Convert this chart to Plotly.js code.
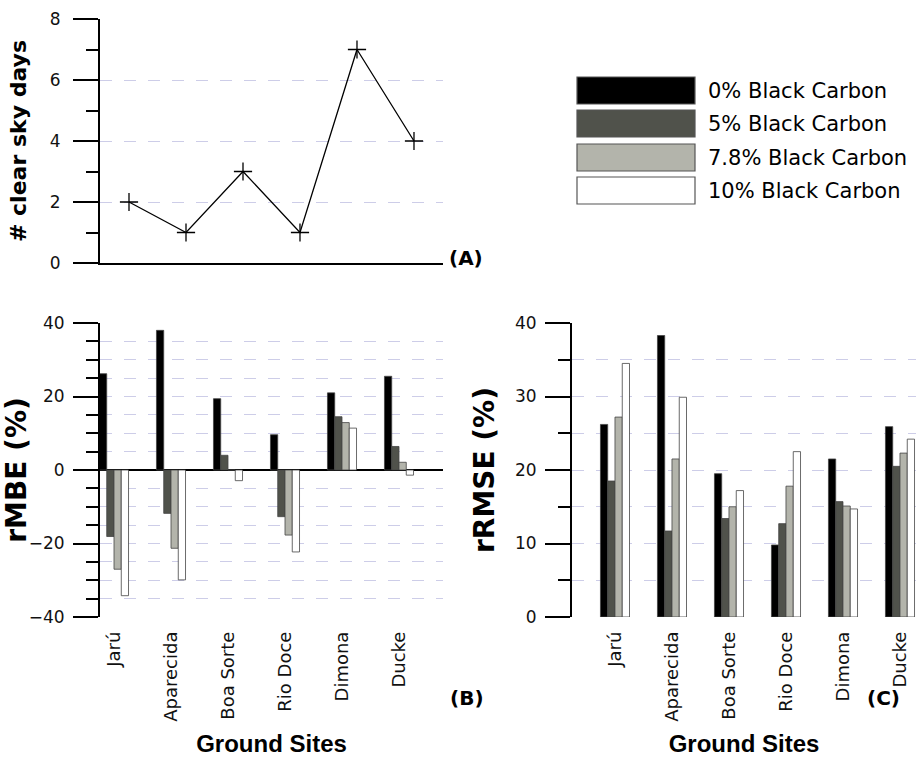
<!DOCTYPE html>
<html>
<head>
<meta charset="utf-8">
<script src="https://cdn.plot.ly/plotly-3.0.1.min.js"></script>
<style>html,body{margin:0;padding:0;background:#fff;}#chart{width:916px;height:757px;}</style>
</head>
<body>
<div id="chart"></div>
<script>
// ---- data ----
const sites = ['Jarú', 'Aparecida', 'Boa Sorte', 'Rio Doce', 'Dimona', 'Ducke'];
const clearSkyDays = [2, 1, 3, 1, 7, 4];
const seriesNames = ['0% Black Carbon', '5% Black Carbon', '7.8% Black Carbon', '10% Black Carbon'];
const rMBE_bc0 = [26.2, 38.0, 19.4, 9.6, 21.0, 25.5];
const rMBE_bc5 = [-18.1, -11.8, 4.0, -12.7, 14.5, 6.4];
const rMBE_bc78 = [-27.0, -21.3, 0.0, -17.7, 12.9, 2.1];
const rMBE_bc10 = [-34.2, -29.9, -2.9, -22.3, 11.4, -1.4];
const rRMSE_bc0 = [26.2, 38.3, 19.5, 9.8, 21.5, 25.9];
const rRMSE_bc5 = [18.5, 11.7, 13.4, 12.7, 15.7, 20.5];
const rRMSE_bc78 = [27.2, 21.5, 15.0, 17.8, 15.1, 22.3];
const rRMSE_bc10 = [34.5, 29.9, 17.2, 22.5, 14.7, 24.2];
const yTicksA = [0, 2, 4, 6, 8];
const yTicksB = [-40, -20, 0, 20, 40];
const yTicksC = [0, 10, 20, 30, 40];

// ---- styles ----
const barColors = ['#000000', '#50524b', '#b3b4ab', '#ffffff'];
const FONT = 'DejaVu Sans, Verdana, sans-serif';
const W = 916, H = 757;
const px = v => v / W;
const py = v => 1 - v / H;

const rMBE = [rMBE_bc0, rMBE_bc5, rMBE_bc78, rMBE_bc10];
const rRMSE = [rRMSE_bc0, rRMSE_bc5, rRMSE_bc78, rRMSE_bc10];

const traces = [];
traces.push({
  type: 'scatter', mode: 'lines+markers', x: sites, y: clearSkyDays,
  xaxis: 'x', yaxis: 'y', showlegend: false,
  line: {color: '#000', width: 1.3},
  marker: {symbol: 'cross-thin-open', size: 13, color: '#000', line: {color: '#000', width: 1.3}}
});
rMBE.forEach((vals, i) => traces.push({
  type: 'bar', x: sites, y: vals, name: seriesNames[i], xaxis: 'x2', yaxis: 'y2', showlegend: false,
  marker: {color: barColors[i], line: {color: '#444', width: 0.8}}
}));
rRMSE.forEach((vals, i) => traces.push({
  type: 'bar', x: sites, y: vals, name: seriesNames[i], xaxis: 'x3', yaxis: 'y3', showlegend: false,
  marker: {color: barColors[i], line: {color: '#444', width: 0.8}}
}));

const gridCol = '#cdcde8';
const tickFont = {family: FONT, size: 17, color: '#111'};
const catFont = {family: FONT, size: 18, color: '#111'};

function yAx(anchor, domain, range, tickvals, minorD, minorGrid, standoff, title, titleSize, titleStandoff) {
  return {
    anchor: anchor, side: 'left',
    domain: domain, range: range, tickmode: 'array', tickvals: tickvals,
    showline: true, linecolor: '#000', linewidth: 2,
    ticks: 'outside', ticklen: 25, tickwidth: 2, tickcolor: '#000',
    ticklabelstandoff: standoff,
    tickfont: tickFont, zeroline: false,
    showgrid: true, gridcolor: gridCol, griddash: '12px,12px', gridwidth: 1,
    minor: {dtick: minorD, ticks: 'outside', ticklen: 12, tickwidth: 2, tickcolor: '#000',
            showgrid: minorGrid, gridcolor: gridCol, griddash: '12px,12px', gridwidth: 1},
    title: {text: title, font: {family: 'DejaVu Sans, sans-serif', size: titleSize, color: '#000', weight: 'bold'}, standoff: titleStandoff},
    fixedrange: true
  };
}

const layout = {
  width: W, height: H,
  margin: {l: 0, r: 0, t: 0, b: 0},
  paper_bgcolor: '#fff', plot_bgcolor: 'rgba(0,0,0,0)',
  showlegend: false,
  barmode: 'group', bargap: 0.49, bargroupgap: 0,
  font: {family: FONT, color: '#000'},
  xaxis: {
    domain: [px(100), px(443)], range: [-0.5088, 5.509], type: 'category',
    anchor: 'y', showline: true, linecolor: '#000', linewidth: 2,
    showticklabels: false, ticks: '', showgrid: false, zeroline: false, fixedrange: true
  },
  yaxis: yAx('x', [py(263), py(19)], [0, 8], yTicksA, 1, false, 9, '# clear sky days', 22, 17),
  xaxis2: {
    domain: [px(100), px(443)], range: [-0.2456, 5.772], type: 'category', anchor: 'y2',
    showline: false, ticks: '', showgrid: false, zeroline: false,
    tickangle: -90, tickfont: catFont, ticklabelstandoff: 10,
    title: {text: 'Ground Sites', font: {family: 'Liberation Sans, Arial, sans-serif', size: 24, weight: 'bold', color: '#000'}, standoff: 17},
    fixedrange: true
  },
  yaxis2: Object.assign(yAx('x2', [py(617), py(323)], [-40, 40], yTicksB, 5, true, 5, 'rMBE (%)', 28, 12),
    {zeroline: true, zerolinecolor: '#000', zerolinewidth: 2}),
  xaxis3: {
    domain: [px(572), 1], range: [-0.754, 5.281], type: 'category', anchor: 'y3',
    showline: false, ticks: '', showgrid: false, zeroline: false,
    tickangle: -90, tickfont: catFont, ticklabelstandoff: 10,
    title: {text: 'Ground Sites', font: {family: 'Liberation Sans, Arial, sans-serif', size: 24, weight: 'bold', color: '#000'}, standoff: 17},
    fixedrange: true
  },
  yaxis3: yAx('x3', [py(617), py(323)], [0, 40], yTicksC, 5, true, 5, 'rRMSE (%)', 28, 12),
  shapes: [],
  annotations: [
    {text: '(A)', x: px(466), y: py(244), xref: 'paper', yref: 'paper', showarrow: false,
     font: {family: 'DejaVu Sans, sans-serif', size: 20, weight: 'bold', color: '#000'}},
    {text: '(B)', x: px(467), y: py(712), xref: 'paper', yref: 'paper', showarrow: false,
     font: {family: 'DejaVu Sans, sans-serif', size: 20, weight: 'bold', color: '#000'}},
    {text: '(C)', x: px(902), y: py(712), xref: 'paper', yref: 'paper', showarrow: false,
     font: {family: 'DejaVu Sans, sans-serif', size: 20, weight: 'bold', color: '#000'}}
  ]
};

// legend drawn as swatches + labels built from the series
const legTop = [77, 110, 144, 177];
seriesNames.forEach((name, i) => {
  layout.shapes.push({
    type: 'rect', xref: 'paper', yref: 'paper',
    x0: px(577), x1: px(695), y0: py(legTop[i] + 27), y1: py(legTop[i]),
    fillcolor: barColors[i], line: {color: '#555', width: 1.2}
  });
  layout.annotations.push({
    text: name, x: px(706), y: py(legTop[i] + 14), xref: 'paper', yref: 'paper',
    xanchor: 'left', yanchor: 'middle', showarrow: false,
    font: {family: FONT, size: 21, color: '#000'}
  });
});

Plotly.newPlot('chart', traces, layout, {displayModeBar: false, staticPlot: true});
</script>
</body>
</html>
